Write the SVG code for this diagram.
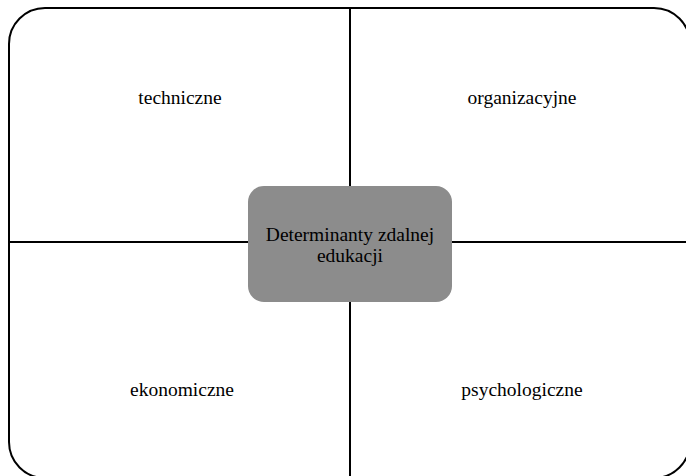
<svg xmlns="http://www.w3.org/2000/svg" width="686" height="476" viewBox="0 0 686 476">
<style>
.frame{fill:none;stroke:#000;stroke-width:2}
.line{stroke:#000;stroke-width:2}
.t{font-family:"Liberation Serif","Times New Roman",serif;font-size:19.5px;fill:#000;text-anchor:middle}
.center{fill:#8c8c8c;stroke:none}
</style>
<rect width="686" height="476" fill="#fff"/>
<g id="frame"><rect class="frame" x="9" y="8" width="681" height="470" rx="36" ry="36"/></g>
<g id="connectors">
<line class="line" x1="350" y1="8" x2="350" y2="476"/>
<line class="line" x1="9" y1="242" x2="686" y2="242"/>
</g>
<g id="techniczne"><text class="t" x="180" y="104">techniczne</text></g>
<g id="organizacyjne"><text class="t" x="522" y="104">organizacyjne</text></g>
<g id="ekonomiczne"><text class="t" x="182" y="396">ekonomiczne</text></g>
<g id="psychologiczne"><text class="t" x="522" y="396">psychologiczne</text></g>
<g id="determinanty">
<rect class="center" x="248" y="186" width="204" height="116" rx="16" ry="16"/>
<text class="t" x="350" y="241">Determinanty zdalnej</text>
<text class="t" x="350" y="262">edukacji</text>
</g>
</svg>
